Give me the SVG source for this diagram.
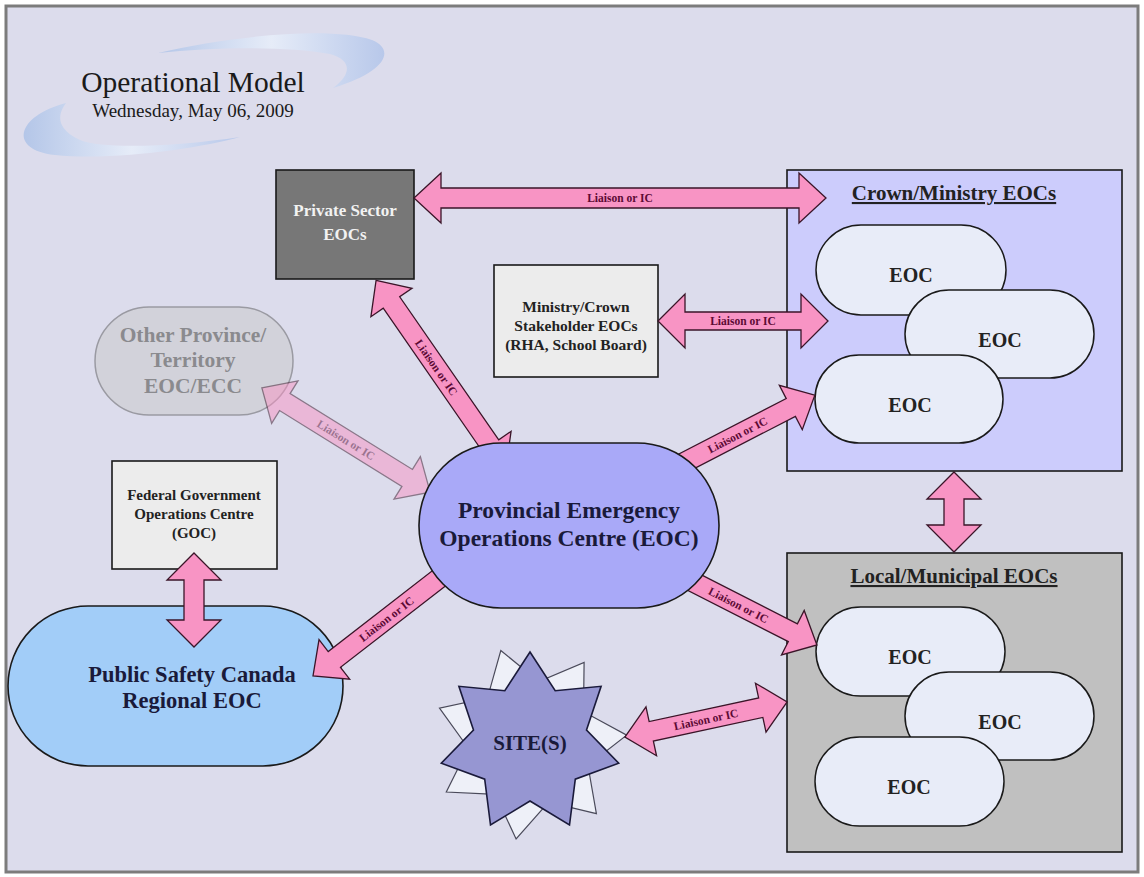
<svg xmlns="http://www.w3.org/2000/svg" width="1144" height="877" viewBox="0 0 1144 877">
<defs>
<linearGradient id="sw" x1="0" y1="0" x2="1" y2="0">
<stop offset="0" stop-color="#b4c6e8"/>
<stop offset="0.5" stop-color="#e6ecf8"/>
<stop offset="1" stop-color="#b8c8ea"/>
</linearGradient>
<style>
.t{font-family:"Liberation Serif","Times New Roman",serif;font-weight:bold;text-anchor:middle}
.eoc{fill:#e8ecf8;stroke:#1a1a1a;stroke-width:1.5}
.eoct{font-size:20px;fill:#222}
.arr{fill:#f894c4;stroke:#3a1528;stroke-width:1.3;stroke-linejoin:miter}
.lab{font-size:11.5px;fill:#5c0a35}
.box{stroke:#1a1a1a;stroke-width:1.6}
</style>
</defs>
<rect x="6" y="6" width="1132" height="866" fill="#dcdcec" stroke="#7c7c7c" stroke-width="3"/>
<g id="title">
<path d="M158,53 C230,36 330,26 372,40 C396,50 386,72 333,88 C352,74 352,60 330,54 C285,46 215,47 158,53 Z" fill="url(#sw)"/>
<path d="M66,103 C16,116 8,150 55,155 C115,161 200,148 240,137 C180,146 105,150 80,140 C58,130 56,116 66,103 Z" fill="url(#sw)"/>
<text x="193" y="92" font-family="Liberation Serif,serif" font-size="29.5" fill="#1a1a1a" text-anchor="middle">Operational Model</text>
<text x="193" y="117" font-family="Liberation Serif,serif" font-size="19" fill="#1a1a1a" text-anchor="middle">Wednesday, May 06, 2009</text>
</g>
<g id="crown">
<rect x="787" y="170" width="335" height="301" fill="#ccccfc" class="box"/>
<text x="954" y="200" class="t" font-size="21" fill="#222" text-decoration="underline">Crown/Ministry EOCs</text>
<rect x="816" y="225" width="190" height="90" rx="45" class="eoc"/>
<text x="911" y="282" class="t eoct">EOC</text>
<rect x="905" y="290" width="189" height="88" rx="44" class="eoc"/>
<text x="1000" y="347" class="t eoct">EOC</text>
<rect x="815" y="355" width="188" height="88" rx="44" class="eoc"/>
<text x="910" y="412" class="t eoct">EOC</text>
</g>
<g id="local">
<rect x="787" y="553" width="335" height="299" fill="#c0c0c0" class="box"/>
<text x="954" y="583" class="t" font-size="21" fill="#222" text-decoration="underline">Local/Municipal EOCs</text>
<rect x="816" y="607" width="189" height="89" rx="44.5" class="eoc"/>
<text x="910" y="664" class="t eoct">EOC</text>
<rect x="905" y="672" width="189" height="88" rx="44" class="eoc"/>
<text x="1000" y="729" class="t eoct">EOC</text>
<rect x="815" y="737" width="189" height="89" rx="44.5" class="eoc"/>
<text x="909" y="794" class="t eoct">EOC</text>
</g>
<g id="private">
<rect x="276" y="170" width="138" height="109" fill="#777777" class="box"/>
<text x="345" y="216" class="t" font-size="17" fill="#f2f2f2">Private Sector</text>
<text x="345" y="240" class="t" font-size="17" fill="#f2f2f2">EOCs</text>
</g>
<g id="ministry">
<rect x="494" y="265" width="164" height="112" fill="#ececec" class="box"/>
<text x="576" y="312" class="t" font-size="15.5" fill="#222">Ministry/Crown</text>
<text x="576" y="331" class="t" font-size="15.5" fill="#222">Stakeholder EOCs</text>
<text x="576" y="350" class="t" font-size="15.5" fill="#222">(RHA, School Board)</text>
</g>
<g id="other">
<rect x="95" y="307" width="198" height="108" rx="54" fill="#d2d2da" stroke="#9a9aa2" stroke-width="1.5"/>
<text x="193" y="342" class="t" font-size="21.5" fill="#8a8a8e">Other Province/</text>
<text x="193" y="367" class="t" font-size="21.5" fill="#8a8a8e">Territory</text>
<text x="193" y="393" class="t" font-size="21.5" fill="#8a8a8e">EOC/ECC</text>
</g>
<g id="goc">
<rect x="112" y="461" width="165" height="108" fill="#ececec" class="box"/>
<text x="194" y="500" class="t" font-size="15" fill="#222">Federal Government</text>
<text x="194" y="519" class="t" font-size="15" fill="#222">Operations Centre</text>
<text x="194" y="538" class="t" font-size="15" fill="#222">(GOC)</text>
</g>
<g id="psc">
<rect x="8" y="606" width="335" height="160" rx="80" fill="#a2cdf8" class="box"/>
<text x="192" y="682" class="t" font-size="22.5" fill="#1a1a3a">Public Safety Canada</text>
<text x="192" y="708" class="t" font-size="22.5" fill="#1a1a3a">Regional EOC</text>
</g>
<g id="site">
<polygon points="500.8,650.5 538.9,681.6 584.1,662.5 583.5,711.7 626.7,735.2 587.9,765.3 596.4,813.7 548.6,802.1 516.1,839 495.4,794.4 446.3,792 468.2,748 439.5,708.1 487.5,697.8" fill="#eef0f8" stroke="#4a4a5a" stroke-width="1.2"/>
<polygon points="530,652 555.2,690.7 601.1,686.3 586.5,730.1 618.7,763.2 575.3,779.2 569.5,825 530,801 490.5,825 484.7,779.2 441.3,763.2 473.5,730.1 458.9,686.3 504.8,690.7" fill="#9696d2" stroke="#1a1a3a" stroke-width="1.6"/>
<text x="530" y="750" class="t" font-size="21" fill="#1a1a3a">SITE(S)</text>
</g>
<g id="connectors">
<g transform="translate(620,198)">
<polygon class="arr" points="-206,0 -179,-25 -179,-10 179,-10 179,-25 206,0 179,25 179,10 -179,10 -179,25"/>
<text class="t lab" x="0" y="4">Liaison or IC</text>
</g>
<g transform="translate(743,321)">
<polygon class="arr" points="-85,0 -58,-27 -58,-9 58,-9 58,-27 85,0 58,27 58,9 -58,9 -58,27"/>
<text class="t lab" x="0" y="4">Liaison or IC</text>
</g>
<g transform="translate(441,374) rotate(55.3)">
<polygon class="arr" points="-114,0 -87,-25 -87,-10 87,-10 87,-25 114,0 87,25 87,10 -87,10 -87,25"/>
<text class="t lab" x="-8" y="4">Liaison or IC</text>
</g>
<g transform="translate(346,440) rotate(31.8)" opacity="0.5">
<polygon class="arr" points="-99,0 -72,-25 -72,-10 72,-10 72,-25 99,0 72,25 72,10 -72,10 -72,25"/>
<text class="t lab" x="0" y="4">Liaison or IC</text>
</g>
<g transform="translate(737.5,435) rotate(-27.3)">
<polygon class="arr" points="-87,-10 60,-10 60,-25 87,0 60,25 60,10 -87,10"/>
<text class="t lab" x="0" y="4">Liaison or IC</text>
</g>
<g transform="translate(738.5,605) rotate(27)">
<polygon class="arr" points="-88,-10 61,-10 61,-25 88,0 61,25 61,10 -88,10"/>
<text class="t lab" x="0" y="4">Liaison or IC</text>
</g>
<g transform="translate(386.5,619) rotate(142.2)">
<polygon class="arr" points="-93,-10 66,-10 66,-25 93,0 66,25 66,10 -93,10"/>
<text class="t lab" x="0" y="4" transform="rotate(180)">Liaison or IC</text>
</g>
<g transform="translate(706,719.5) rotate(-12.2)">
<polygon class="arr" points="-83,0 -56,-25 -56,-10 56,-10 56,-25 83,0 56,25 56,10 -56,10 -56,25"/>
<text class="t lab" x="0" y="4">Liaison or IC</text>
</g>
<g transform="translate(954,512) rotate(90)">
<polygon class="arr" points="-40,0 -13,-27 -13,-10 13,-10 13,-27 40,0 13,27 13,10 -13,10 -13,27"/>
</g>
<g transform="translate(194,600) rotate(90)">
<polygon class="arr" points="-47,0 -20,-27 -20,-10 20,-10 20,-27 47,0 20,27 20,10 -20,10 -20,27"/>
</g>
</g>
<g id="provincial">
<rect x="419" y="443" width="300" height="165" rx="82" fill="#a9a9f8" class="box"/>
<text x="569" y="518" class="t" font-size="23.5" fill="#1a1a3a">Provincial Emergency</text>
<text x="569" y="546" class="t" font-size="23.5" fill="#1a1a3a">Operations Centre (EOC)</text>
</g>
</svg>
